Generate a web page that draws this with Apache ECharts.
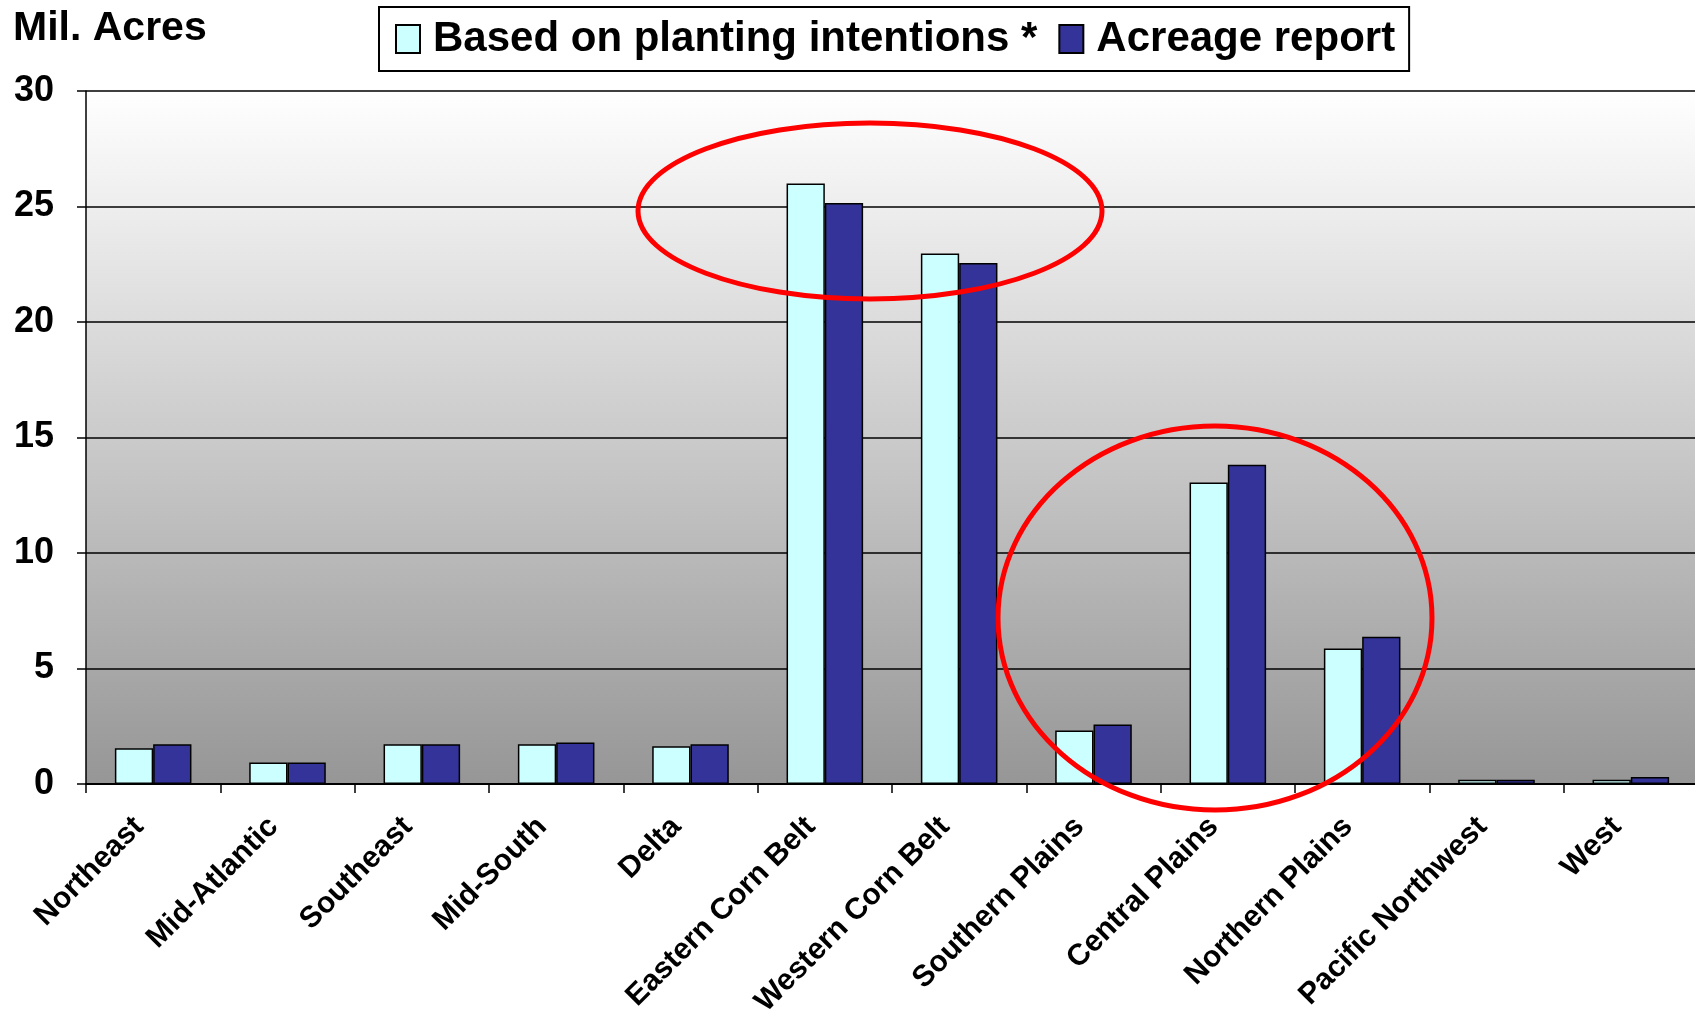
<!DOCTYPE html>
<html><head><meta charset="utf-8">
<script src="https://cdn.jsdelivr.net/npm/echarts@6/dist/echarts.min.js"></script>
<style>html,body{margin:0;padding:0;background:#fff}#c{width:1695px;height:1014px}</style>
</head><body><div id="c"></div>
<script>
const categories = ['Northeast','Mid-Atlantic','Southeast','Mid-South','Delta','Eastern Corn Belt','Western Corn Belt','Southern Plains','Central Plains','Northern Plains','Pacific Northwest','West'];
const intentions = [1.55, 0.93, 1.72, 1.72, 1.63, 26.0, 22.96, 2.32, 13.05, 5.87, 0.18, 0.18];
const acreage = [1.72, 0.93, 1.72, 1.8, 1.72, 25.15, 22.55, 2.58, 13.82, 6.37, 0.18, 0.3];
const yTicks = [0, 5, 10, 15, 20, 25, 30];
const seriesNames = ['Based on planting intentions *', 'Acreage report'];

const FONT = '"Liberation Sans", Arial, sans-serif';
const chart = echarts.init(document.getElementById('c'));
chart.setOption({
  animation: false,
  textStyle: {fontFamily: FONT},
  grid: {
    left: 86, top: 91, bottom: 230, width: 1612,
    outerBoundsMode: 'none', containLabel: false,
    show: true, borderWidth: 0,
    backgroundColor: new echarts.graphic.LinearGradient(0, 0, 0, 1, [
      {offset: 0, color: '#FFFFFF'}, {offset: 1, color: '#969696'}
    ])
  },
  legend: {
    left: 379, top: 7,
    padding: [11, 14, 11, 16],
    backgroundColor: '#FFFFFF', borderColor: '#000', borderWidth: 2,
    itemWidth: 24, itemHeight: 28, itemGap: 21,
    icon: 'rect',
    textStyle: {fontSize: 42, fontWeight: 'bold', color: '#000', fontFamily: FONT, padding: [0, 0, 0, 8]},
    data: seriesNames
  },
  graphic: [
    {type: 'text', left: 13, top: 8, style: {text: 'Mil. Acres', font: 'bold 41px ' + FONT, fill: '#000'}},
    {type: 'ellipse', z: 100, shape: {cx: 870, cy: 211, rx: 232, ry: 88}, style: {fill: 'none', stroke: '#FF0000', lineWidth: 5}},
    {type: 'ellipse', z: 100, shape: {cx: 1215, cy: 618, rx: 217, ry: 192}, style: {fill: 'none', stroke: '#FF0000', lineWidth: 5}}
  ],
  xAxis: {
    type: 'category', data: categories,
    axisLine: {lineStyle: {color: '#000', width: 2}},
    axisTick: {show: true, length: 9, lineStyle: {color: '#000', width: 1.5}},
    axisLabel: {rotate: 45, margin: 24, interval: 0, fontSize: 30, fontWeight: 'bold', color: '#000', fontFamily: FONT, padding: [0, 20, 0, 0]}
  },
  yAxis: {
    type: 'value', min: yTicks[0], max: yTicks[yTicks.length - 1], interval: 5,
    axisLine: {show: true, lineStyle: {color: '#000', width: 1.5}},
    axisTick: {show: true, length: 9, lineStyle: {color: '#000', width: 1.5}},
    axisLabel: {margin: 32, fontSize: 36, fontWeight: 'bold', color: '#000', fontFamily: FONT},
    splitLine: {lineStyle: {color: '#000', width: 1.5}}
  },
  series: [
    {name: seriesNames[0], type: 'bar', data: intentions, barGap: 0, barCategoryGap: '43%',
     itemStyle: {color: '#CCFFFF', borderColor: '#000', borderWidth: 1.5}},
    {name: seriesNames[1], type: 'bar', data: acreage, barGap: 0, barCategoryGap: '43%',
     itemStyle: {color: '#333399', borderColor: '#000', borderWidth: 1.5}}
  ]
});
</script></body></html>
